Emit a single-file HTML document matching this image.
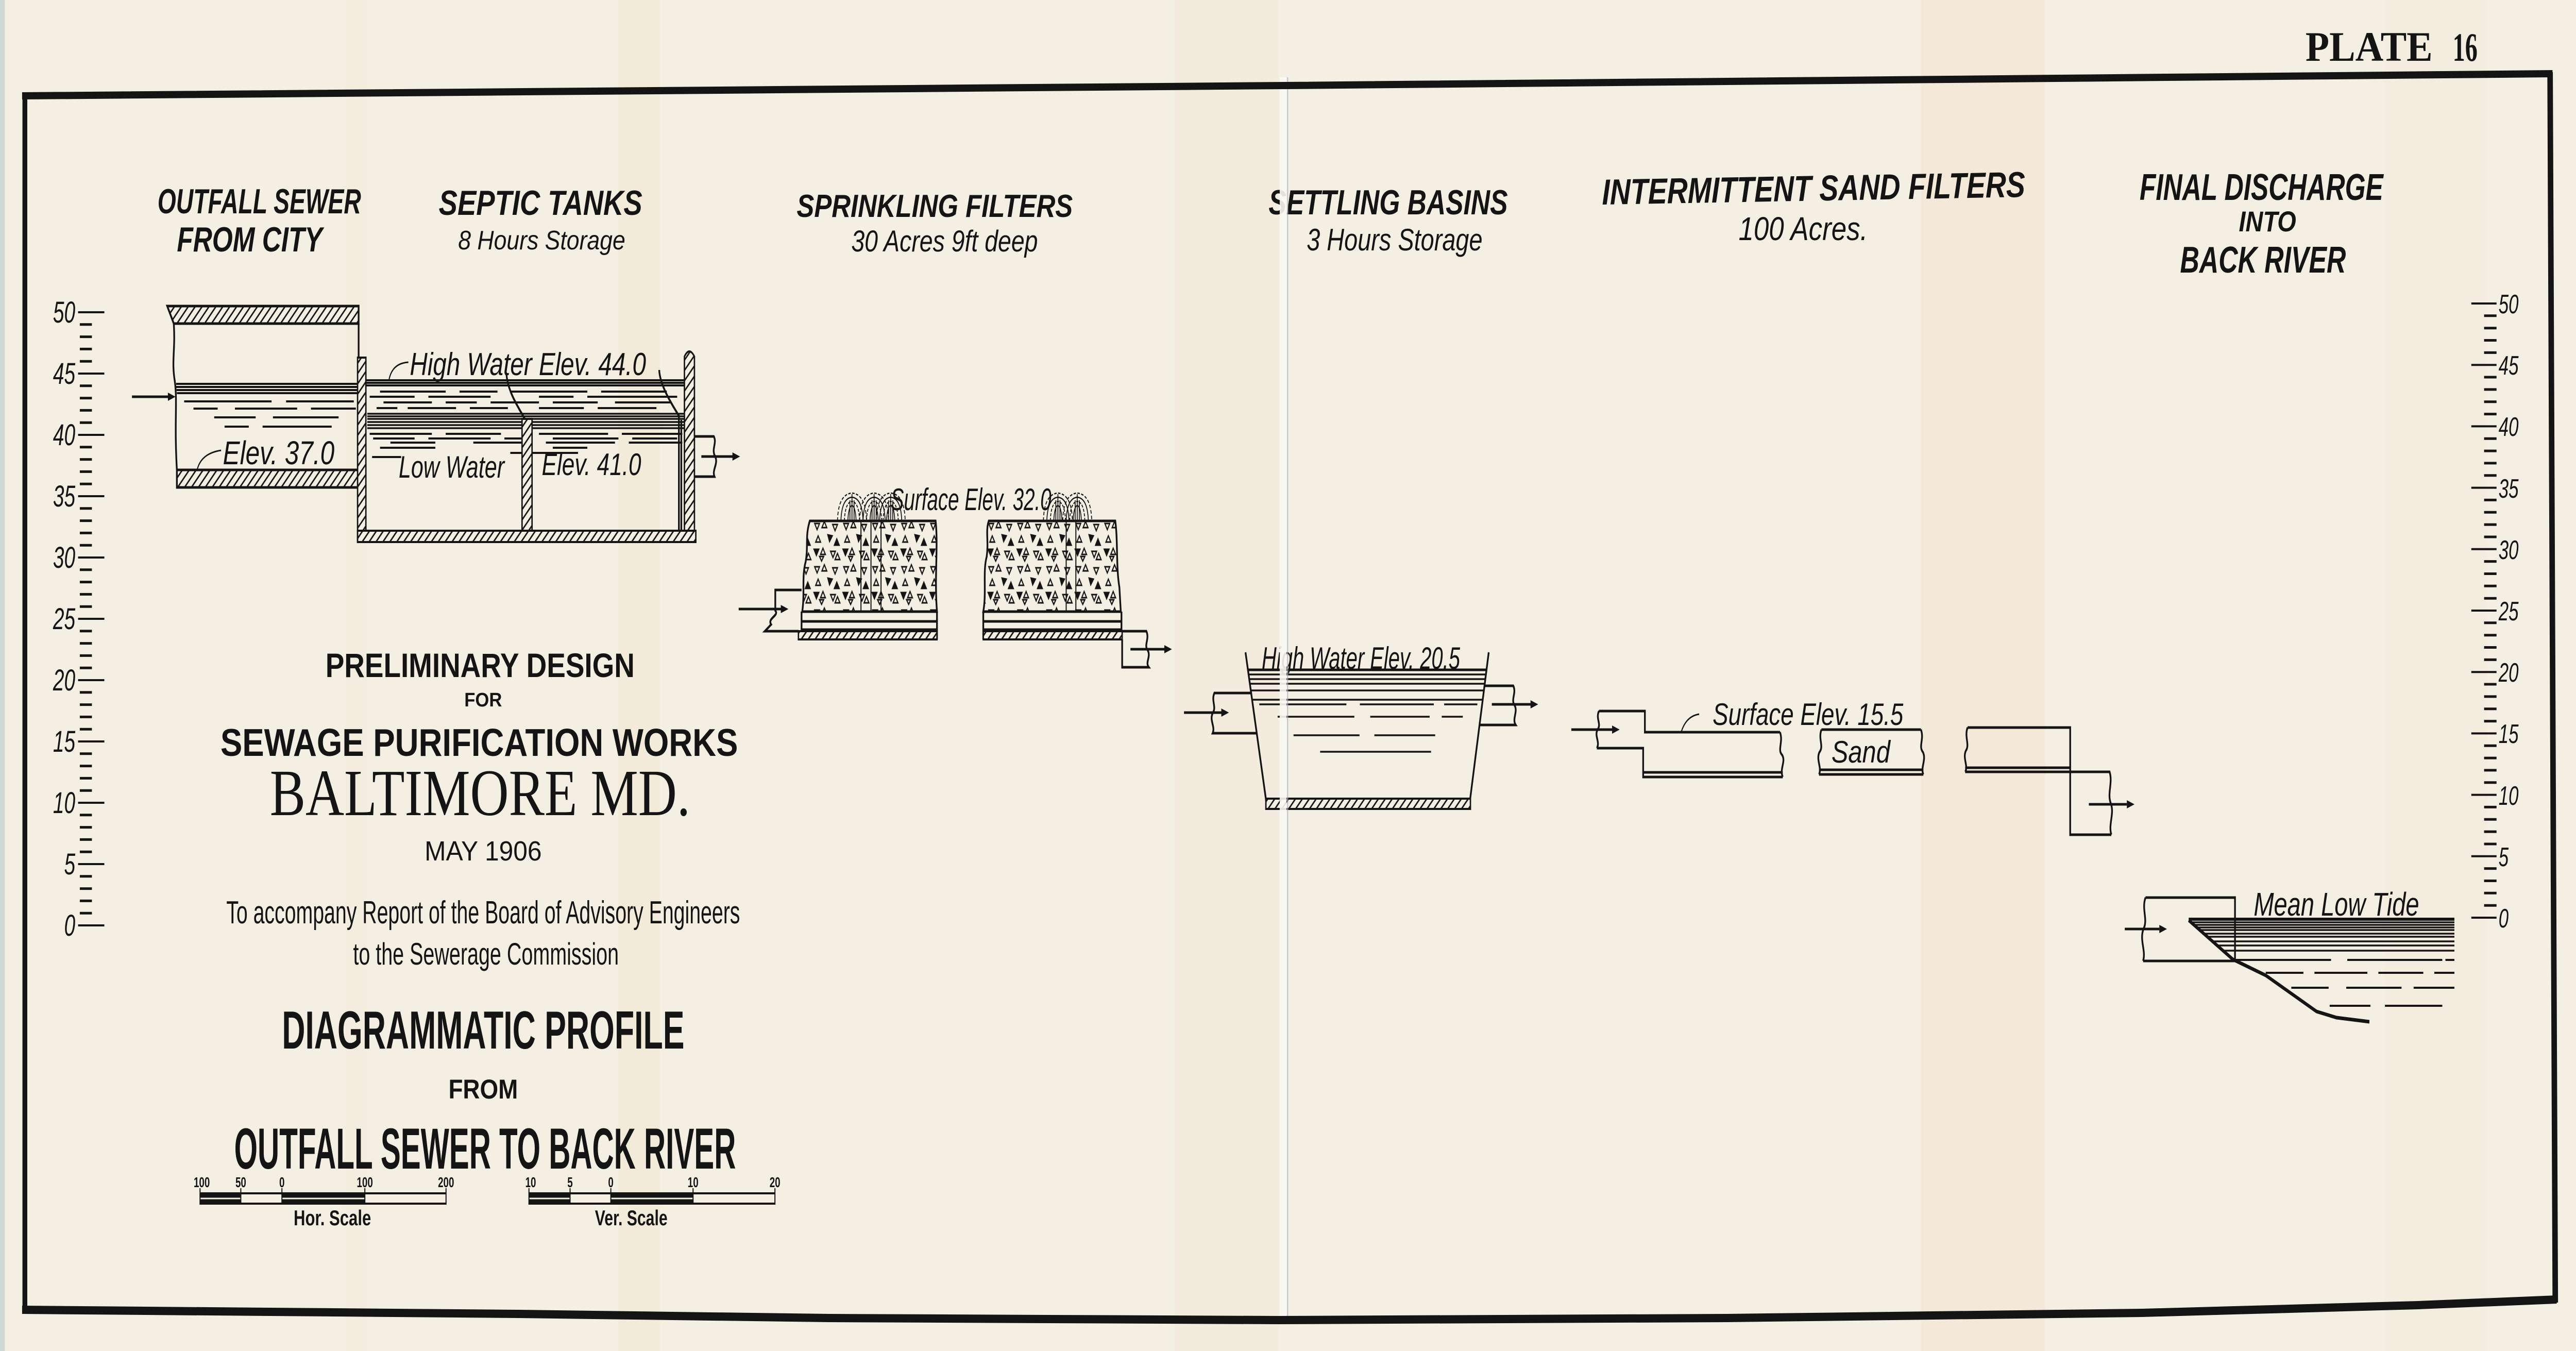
<!DOCTYPE html>
<html><head><meta charset="utf-8"><style>
html,body{margin:0;padding:0;background:#f4efe3;width:100%;height:100%;overflow:hidden;}
svg{display:block;width:100vw;height:100vh;}
</style></head><body>
<svg xmlns="http://www.w3.org/2000/svg" viewBox="0 0 7456 2622" preserveAspectRatio="none">
<defs>
<style>
.h{font-family:"Liberation Sans",sans-serif;font-weight:bold;font-style:italic;fill:#141414}
.s{font-family:"Liberation Sans",sans-serif;font-style:italic;fill:#141414}
.t{font-family:"Liberation Sans",sans-serif;font-weight:bold;fill:#141414}
.r{font-family:"Liberation Sans",sans-serif;fill:#141414}
.sf{font-family:"Liberation Serif",serif;fill:#141414}
.ln{fill:none;stroke:#141414;stroke-width:5}
.th{fill:none;stroke:#141414;stroke-width:3}
</style>
<pattern id="h" patternUnits="userSpaceOnUse" width="20" height="20"><rect width="20" height="20" fill="#f4efe3"/><path d="M-5 25 L25 -5 M-5 5 L5 -5 M15 25 L25 15" stroke="#141414" stroke-width="3.5"/></pattern>
<pattern id="m" patternUnits="userSpaceOnUse" width="84" height="84"><rect width="84" height="84" fill="#f4efe3"/>
<path d="M6 8 l14 0 l-7 12z M34 4 l7 12 h-14z M58 10 l14 0 l-7 12z M16 32 l7 12 h-14z M44 30 l13 2 l-8 11z M70 38 l7 12 h-14z M4 58 l14 0 l-7 12z M30 56 l7 12 h-14z M52 62 l14 0 l-7 12z M72 66 l7 12 h-14z M20 72 l12 0 l-6 9z" fill="none" stroke="#141414" stroke-width="3"/>
<path d="M44 30 l13 2 l-8 11z M4 58 l14 0 l-7 12z M70 38 l7 12 h-14z" fill="#141414"/>
</pattern>
<g id="sp" fill="none" stroke="#141414" stroke-width="2.5">
<path d="M-42 0 Q-40 -52 0 -54 Q40 -52 42 0" stroke-dasharray="7 4"/>
<path d="M-32 0 Q-30 -44 0 -46 Q30 -44 32 0"/>
<path d="M-22 0 Q-20 -36 0 -38 Q20 -36 22 0" stroke-dasharray="6 3"/>
<path d="M-12 0 Q-10 -28 0 -30 Q10 -28 12 0"/>
<path d="M0 0 V-52 M-6 0 V-40 M6 0 V-40"/>
</g>
</defs>

<!-- paper -->
<rect width="7456" height="2622" fill="#f4efe3"/>
<rect x="0" y="0" width="14" height="2622" fill="#cfd7d5"/>
<rect x="1790" y="0" width="120" height="2622" fill="#eee0c2" opacity="0.3"/>
<rect x="3400" y="0" width="300" height="2622" fill="#f1e7d4" opacity="0.35"/>
<rect x="5560" y="0" width="360" height="2622" fill="#f3e2c9" opacity="0.45"/>
<rect x="1000" y="0" width="60" height="2622" fill="#f0e6d3" opacity="0.25"/>
<rect x="6900" y="0" width="300" height="2622" fill="#f1e8d8" opacity="0.3"/>

<!-- PLATE -->
<text class="sf" font-weight="bold" x="6673" y="118" font-size="82" textLength="368" lengthAdjust="spacingAndGlyphs">PLATE</text>
<text class="sf" font-weight="bold" x="7099" y="118" font-size="78" textLength="72" lengthAdjust="spacingAndGlyphs">16</text>

<!-- headings -->
<text class="h" x="456" y="414" font-size="68" textLength="589" lengthAdjust="spacingAndGlyphs">OUTFALL SEWER</text>
<text class="h" x="512" y="488" font-size="68" textLength="421" lengthAdjust="spacingAndGlyphs">FROM CITY</text>
<text class="h" x="1270" y="417" font-size="68" textLength="589" lengthAdjust="spacingAndGlyphs">SEPTIC TANKS</text>
<text class="s" x="1326" y="484" font-size="52" textLength="484" lengthAdjust="spacingAndGlyphs">8 Hours Storage</text>
<text class="h" x="2306" y="421" font-size="62" textLength="799" lengthAdjust="spacingAndGlyphs">SPRINKLING FILTERS</text>
<text class="s" x="2464" y="488" font-size="58" textLength="540" lengthAdjust="spacingAndGlyphs">30 Acres 9ft deep</text>
<text class="h" x="3672" y="416" font-size="68" textLength="692" lengthAdjust="spacingAndGlyphs">SETTLING BASINS</text>
<text class="s" x="3782" y="486" font-size="60" textLength="509" lengthAdjust="spacingAndGlyphs">3 Hours Storage</text>
<text class="h" x="4637" y="397" font-size="70" textLength="1225" lengthAdjust="spacingAndGlyphs" transform="rotate(-0.7 4637 397)">INTERMITTENT SAND FILTERS</text>
<text class="s" x="5032" y="466" font-size="64" textLength="374" lengthAdjust="spacingAndGlyphs">100 Acres.</text>
<text class="h" x="6193" y="388" font-size="72" textLength="705" lengthAdjust="spacingAndGlyphs">FINAL DISCHARGE</text>
<text class="h" x="6480" y="449" font-size="56" textLength="166" lengthAdjust="spacingAndGlyphs">INTO</text>
<text class="h" x="6310" y="529" font-size="72" textLength="480" lengthAdjust="spacingAndGlyphs">BACK RIVER</text>

<!-- left scale -->
<path d="M226 1796H302M226 1677H302M226 1558H302M226 1439H302M226 1320H302M226 1201H302M226 1082H302M226 963H302M226 844H302M226 725H302M226 606H302" stroke="#141414" stroke-width="4"/>
<path d="M231 1772.2H266M231 1748.4H266M231 1724.6H266M231 1700.8H266M231 1653.2H266M231 1629.4H266M231 1605.6H266M231 1581.8H266M231 1534.2H266M231 1510.4H266M231 1486.6H266M231 1462.8H266M231 1415.2H266M231 1391.4H266M231 1367.6H266M231 1343.8H266M231 1296.2H266M231 1272.4H266M231 1248.6H266M231 1224.8H266M231 1177.2H266M231 1153.4H266M231 1129.6H266M231 1105.8H266M231 1058.2H266M231 1034.4H266M231 1010.6H266M231 986.8H266M231 939.2H266M231 915.4H266M231 891.6H266M231 867.8H266M231 820.2H266M231 796.4H266M231 772.6H266M231 748.8H266M231 701.2H266M231 677.4H266M231 653.6H266M231 629.8H266" stroke="#141414" stroke-width="5"/>
<g class="s" font-size="58" text-anchor="end">
<text x="218" y="626">50</text><text x="218" y="745">45</text><text x="218" y="864">40</text><text x="218" y="983">35</text><text x="218" y="1102">30</text><text x="218" y="1221">25</text><text x="218" y="1340">20</text><text x="218" y="1459">15</text><text x="218" y="1578">10</text><text x="218" y="1697">5</text><text x="218" y="1816">0</text>
</g>

<!-- right scale -->
<path d="M7153 1781H7226M7153 1661.8H7226M7153 1542.6H7226M7153 1423.4H7226M7153 1304.2H7226M7153 1185H7226M7153 1065.8H7226M7153 946.6H7226M7153 827.4H7226M7153 708.2H7226M7153 589H7226" stroke="#141414" stroke-width="4"/>
<path d="M7190 1757.2H7226M7190 1733.3H7226M7190 1709.5H7226M7190 1685.6H7226M7190 1638H7226M7190 1614.1H7226M7190 1590.3H7226M7190 1566.4H7226M7190 1518.8H7226M7190 1494.9H7226M7190 1471.1H7226M7190 1447.2H7226M7190 1399.6H7226M7190 1375.7H7226M7190 1351.9H7226M7190 1328H7226M7190 1280.4H7226M7190 1256.5H7226M7190 1232.7H7226M7190 1208.8H7226M7190 1161.2H7226M7190 1137.3H7226M7190 1113.5H7226M7190 1089.6H7226M7190 1042H7226M7190 1018.1H7226M7190 994.3H7226M7190 970.4H7226M7190 922.8H7226M7190 898.9H7226M7190 875.1H7226M7190 851.2H7226M7190 803.6H7226M7190 779.7H7226M7190 755.9H7226M7190 732H7226M7190 684.4H7226M7190 660.5H7226M7190 636.7H7226M7190 612.8H7226" stroke="#141414" stroke-width="5"/>
<g class="s" font-size="52">
<text x="7232" y="608">50</text><text x="7232" y="727">45</text><text x="7232" y="846">40</text><text x="7232" y="966">35</text><text x="7232" y="1085">30</text><text x="7232" y="1204">25</text><text x="7232" y="1323">20</text><text x="7232" y="1442">15</text><text x="7232" y="1562">10</text><text x="7232" y="1681">5</text><text x="7232" y="1800">0</text>
</g>

<!-- ===== OUTFALL SEWER ===== -->
<g stroke="#141414" fill="none">
<path d="M510 745H1035M510 751H1035M511 757H1035M512 763H1035" stroke-width="4"/>
<path d="M533 779H786M828 779H1024M560 793H630M680 793H860M900 793H1030M620 810H740M790 810H980M650 828H720M760 828H960" stroke-width="4"/>
</g>
<path d="M484 594 L1038 594 L1038 628 L503 628 Z" fill="url(#h)" stroke="#141414" stroke-width="5"/>
<path d="M512 912 L1038 912 L1038 946 L512 946 Z" fill="url(#h)" stroke="#141414" stroke-width="5"/>
<path d="M503 628 C508 680 496 700 506 740 C514 780 504 820 512 912" class="ln"/>
<path d="M1038 628 V694" class="ln"/>
<path d="M382 770 H490" class="ln"/><polygon points="508,770 486,762 486,778" fill="#141414"/>
<path d="M570 914 Q580 880 640 874" class="th" stroke-width="4"/>
<text class="s" x="645" y="901" font-size="64" textLength="323" lengthAdjust="spacingAndGlyphs">Elev. 37.0</text>

<!-- ===== SEPTIC TANKS ===== -->
<g stroke="#141414" fill="none">
<path d="M1059 738H1981M1059 743H1981M1059 748H1981" stroke-width="4"/>
<path d="M1100 760H1290M1330 760H1440M1480 760H1700M1740 760H1930M1070 770H1200M1240 770H1420M1560 770H1660M1700 770H1960M1110 781H1250M1290 781H1380M1420 781H1560M1600 781H1730M1780 781H1940M1090 792H1150M1180 792H1320M1360 792H1470M1560 792H1690M1730 792H1900" stroke-width="4"/>
<path d="M1063 803H1981M1063 808H1981M1063 813H1981M1063 819H1981M1063 825H1981M1063 831H1981" stroke-width="3.5"/>
<path d="M1070 842H1250M1290 842H1450M1560 842H1760M1800 842H1975M1080 851H1200M1240 851H1420M1460 851H1520M1600 851H1790M1830 851H1960M1130 859H1260M1370 859H1530M1580 859H1780M1820 859H1975M1100 869H1260M1600 869H1700" stroke-width="4"/>
<path d="M1077 887H1161M1477 879H1673" stroke-width="4"/>
</g>
<rect x="1035" y="694" width="24" height="358" fill="url(#h)" stroke="#141414" stroke-width="4"/>
<path d="M1981 1052 V692 Q1995 672 2010 692 V1052 Z" fill="url(#h)" stroke="#141414" stroke-width="4"/>
<rect x="1511" y="813" width="29" height="225" fill="url(#h)" stroke="#141414" stroke-width="4"/>
<rect x="1035" y="1030" width="979" height="22" fill="url(#h)" stroke="#141414" stroke-width="4"/>
<path d="M1466 727 C1470 760 1500 790 1519 813" class="ln"/>
<path d="M1908 718 C1910 750 1950 790 1965 807 L1965 1030 M1972 815 V1030" class="ln" stroke-width="4"/>
<path d="M1126 737 Q1135 705 1182 703" class="th" stroke-width="4"/>
<text class="s" x="1186" y="728" font-size="62" textLength="684" lengthAdjust="spacingAndGlyphs">High Water Elev. 44.0</text>
<text class="s" x="1154" y="927" font-size="60" textLength="306" lengthAdjust="spacingAndGlyphs">Low Water</text>
<text class="s" x="1568" y="922" font-size="60" textLength="288" lengthAdjust="spacingAndGlyphs">Elev. 41.0</text>
<path d="M2010 847 H2066 C2076 860 2058 872 2070 886 C2080 900 2060 912 2068 925 H2010" class="ln"/>
<path d="M2030 886 H2122" class="ln"/><polygon points="2142,886 2120,878 2120,894" fill="#141414"/>

<!-- ===== SPRINKLING FILTERS ===== -->
<path d="M2344 1011 L2708 1011 C2716 1060 2704 1120 2712 1187 L2322 1187 C2330 1150 2320 1120 2332 1090 C2340 1060 2330 1040 2344 1011 Z" fill="url(#m)" stroke="#141414" stroke-width="5"/>
<path d="M2492 1011V1187M2521 1011V1187M2550 1011V1187" class="th"/>
<path d="M2318 1206H2712M2318 1222H2712M2320 1187V1241M2712 1187V1241" class="ln" stroke-width="4"/>
<rect x="2311" y="1225" width="401" height="16" fill="url(#h)" stroke="#141414" stroke-width="4"/>
<use href="#sp" x="2466" y="1011"/><use href="#sp" x="2530" y="1011"/><use href="#sp" x="2578" y="1011"/>
<path d="M2320 1145 H2244 V1185 C2256 1195 2220 1200 2232 1212 L2214 1225 H2311" class="ln"/>
<path d="M2138 1182 H2262" class="ln"/><polygon points="2282,1182 2260,1174 2260,1190" fill="#141414"/>

<path d="M2862 1011 L3228 1011 C3236 1050 3230 1100 3240 1140 L3244 1187 L2846 1187 C2856 1150 2844 1110 2856 1080 C2862 1050 2852 1030 2862 1011 Z" fill="url(#m)" stroke="#141414" stroke-width="5"/>
<path d="M3086 1011V1187M3114 1011V1187" class="th"/>
<path d="M2846 1206H3248M2846 1222H3248M2846 1187V1241M3246 1187V1241" class="ln" stroke-width="4"/>
<rect x="2846" y="1225" width="402" height="16" fill="url(#h)" stroke="#141414" stroke-width="4"/>
<use href="#sp" x="3062" y="1011"/><use href="#sp" x="3118" y="1011"/>
<path d="M3248 1225 H3318 C3328 1240 3310 1252 3322 1262 C3332 1275 3314 1285 3325 1295 H3248 V1241" class="ln"/>
<path d="M3272 1260 H3372" class="ln"/><polygon points="3392,1260 3370,1252 3370,1268" fill="#141414"/>
<text class="s" x="2578" y="990" font-size="60" textLength="465" lengthAdjust="spacingAndGlyphs">Surface Elev. 32.0</text>

<!-- ===== SETTLING BASIN ===== -->
<g stroke="#141414" fill="none">
<path d="M3612 1300H4303" stroke-width="5"/>
<path d="M3614 1309H4301M3616 1318H4299M3618 1327H4297M3620 1340H4295M3624 1358H4292" stroke-width="3.5"/>
<path d="M3645 1367H3897M3936 1367H4150M4180 1367H4276M3698 1391H3920M3966 1391H4138M4173 1391H4234M3744 1427H3935M3978 1427H4154M3821 1459H4142" stroke-width="3.5"/>
</g>
<path d="M3605 1266 L3668 1570 M4309 1266 L4255 1552" class="ln"/>
<rect x="3664" y="1550" width="592" height="20" fill="url(#h)" stroke="#141414" stroke-width="4"/>
<path d="M3621 1345 H3515 C3505 1360 3522 1372 3510 1384 C3500 1398 3518 1410 3510 1423 H3637" class="ln"/>
<path d="M3427 1383 H3537" class="ln"/><polygon points="3557,1383 3535,1375 3535,1391" fill="#141414"/>
<path d="M4297 1331 H4380 C4390 1345 4372 1358 4384 1369 C4394 1382 4376 1395 4387 1407 H4282" class="ln"/>
<path d="M4318 1367 H4432" class="ln"/><polygon points="4452,1367 4430,1359 4430,1375" fill="#141414"/>
<text class="s" x="3652" y="1298" font-size="60" textLength="574" lengthAdjust="spacingAndGlyphs">High Water Elev. 20.5</text>

<!-- ===== SAND FILTERS ===== -->
<path d="M4628 1380 H4761 V1421 H5152" class="ln"/>
<path d="M4622 1452 H4756 V1508 H5160 M4756 1499 H5160" class="ln"/>
<path d="M4628 1380 C4618 1395 4636 1405 4624 1416 C4614 1428 4632 1440 4622 1452" class="ln"/>
<path d="M5152 1421 C5162 1440 5144 1455 5158 1465 C5170 1478 5150 1492 5160 1508" class="ln"/>
<path d="M4548 1416 H4668" class="ln"/><polygon points="4688,1416 4666,1408 4666,1424" fill="#141414"/>
<path d="M4866 1421 Q4880 1390 4918 1386" class="th" stroke-width="4"/>
<text class="s" x="4957" y="1407" font-size="60" textLength="552" lengthAdjust="spacingAndGlyphs">Surface Elev. 15.5</text>

<path d="M5272 1416 H5560 M5265 1494 H5567 M5265 1503 H5567" class="ln"/>
<path d="M5272 1416 C5262 1435 5280 1448 5266 1460 C5256 1475 5274 1490 5265 1503" class="ln"/>
<path d="M5560 1416 C5570 1435 5552 1448 5566 1460 C5576 1475 5558 1490 5567 1503" class="ln"/>
<text class="s" x="5301" y="1480" font-size="60" textLength="170" lengthAdjust="spacingAndGlyphs">Sand</text>

<path d="M5695 1412 H5992 V1620 H6111 M5688 1490 H5992 M5688 1498 H6108" class="ln"/>
<path d="M5695 1412 C5685 1430 5702 1445 5690 1457 C5680 1472 5698 1487 5688 1498" class="ln"/>
<path d="M6106 1498 C6116 1520 6098 1540 6110 1560 C6120 1580 6102 1600 6111 1620" class="ln"/>
<path d="M6046 1561 H6156" class="ln"/><polygon points="6178,1561 6156,1553 6156,1569" fill="#141414"/>

<!-- ===== FINAL DISCHARGE ===== -->
<g stroke="#141414" fill="none">
<path d="M6335 1784H7104" stroke-width="6"/>
<path d="M6342 1790H7104M6350 1795H7104M6359 1800H7104M6367 1805H7104M6379 1812H7104M6389 1818H7104M6404 1827H7104M6417 1835H7104M6434 1845H7104" stroke-width="3.5"/>
<path d="M6463 1863H6747M6794 1863H7069M7078 1863H7104M6558 1888H6667M6699 1888H6852M6884 1888H7014M7046 1888H7104M6632 1917H6740M6791 1917H6951M6986 1917H7104M6743 1952H6861M6903 1952H7069" stroke-width="4"/>
</g>
<path d="M6335 1786 L6463 1862 L6558 1893 L6705 1963 L6763 1975 L6858 1983" fill="none" stroke="#141414" stroke-width="7"/>
<path d="M6210 1742 H6469 V1865 H6203" class="ln"/>
<path d="M6210 1742 C6198 1765 6218 1785 6204 1803 C6192 1825 6212 1845 6203 1865" class="ln"/>
<path d="M6150 1803 H6250" class="ln"/><polygon points="6272,1803 6250,1795 6250,1811" fill="#141414"/>
<text class="s" x="6523" y="1777" font-size="64" textLength="479" lengthAdjust="spacingAndGlyphs">Mean Low Tide</text>

<!-- ===== TITLE BLOCK ===== -->
<text class="t" x="942" y="1314" font-size="66" textLength="895" lengthAdjust="spacingAndGlyphs">PRELIMINARY DESIGN</text>
<text class="t" x="1344" y="1371" font-size="38" textLength="109" lengthAdjust="spacingAndGlyphs">FOR</text>
<text class="t" x="638" y="1467" font-size="75" textLength="1498" lengthAdjust="spacingAndGlyphs">SEWAGE PURIFICATION WORKS</text>
<text class="sf" x="781" y="1582" font-size="128" textLength="1217" lengthAdjust="spacingAndGlyphs">BALTIMORE MD.</text>
<text class="r" x="1229" y="1670" font-size="54" textLength="339" lengthAdjust="spacingAndGlyphs">MAY 1906</text>
<text class="r" x="655" y="1792" font-size="62" textLength="1487" lengthAdjust="spacingAndGlyphs">To accompany Report of the Board of Advisory Engineers</text>
<text class="r" x="1022" y="1872" font-size="60" textLength="769" lengthAdjust="spacingAndGlyphs">to the Sewerage Commission</text>
<text class="t" x="816" y="2035" font-size="104" textLength="1165" lengthAdjust="spacingAndGlyphs">DIAGRAMMATIC PROFILE</text>
<text class="t" x="1298" y="2132" font-size="53" textLength="201" lengthAdjust="spacingAndGlyphs">FROM</text>
<text class="t" x="678" y="2268" font-size="112" textLength="1452" lengthAdjust="spacingAndGlyphs">OUTFALL SEWER TO BACK RIVER</text>

<!-- scale bars -->
<rect x="579" y="2316" width="118" height="20" fill="#141414"/>
<rect x="816" y="2316" width="240" height="20" fill="#141414"/>
<path d="M579 2326H697M816 2326H1056" stroke="#f4efe3" stroke-width="3"/>
<path d="M579 2316H1291M579 2336H1291" stroke="#141414" stroke-width="4"/>
<path d="M579 2306V2338M697 2306V2338M816 2306V2338M1056 2306V2338M1291 2306V2338" stroke="#141414" stroke-width="3"/>
<g class="t" font-size="28" text-anchor="middle">
<text x="584" y="2304">100</text><text x="697" y="2304">50</text><text x="816" y="2304">0</text><text x="1056" y="2304">100</text><text x="1291" y="2304">200</text>
</g>
<text class="t" x="850" y="2378" font-size="42" textLength="224" lengthAdjust="spacingAndGlyphs">Hor. Scale</text>

<rect x="1531" y="2316" width="119" height="20" fill="#141414"/>
<rect x="1768" y="2316" width="238" height="20" fill="#141414"/>
<path d="M1531 2326H1650M1768 2326H2006" stroke="#f4efe3" stroke-width="3"/>
<path d="M1531 2316H2243M1531 2336H2243" stroke="#141414" stroke-width="4"/>
<path d="M1531 2306V2338M1650 2306V2338M1768 2306V2338M2006 2306V2338M2243 2306V2338" stroke="#141414" stroke-width="3"/>
<g class="t" font-size="28" text-anchor="middle">
<text x="1536" y="2304">10</text><text x="1650" y="2304">5</text><text x="1768" y="2304">0</text><text x="2006" y="2304">10</text><text x="2243" y="2304">20</text>
</g>
<text class="t" x="1722" y="2378" font-size="42" textLength="210" lengthAdjust="spacingAndGlyphs">Ver. Scale</text>

<!-- fold -->
<rect x="3704" y="150" width="20" height="2410" fill="#f9f7f2" opacity="0.9"/>
<path d="M3727 150 V2560" stroke="#aeb5bd" stroke-width="3" opacity="0.8"/>

<!-- border -->
<path d="M64 186 L3720 166 L7388 143" fill="none" stroke="#141414" stroke-width="14"/>
<path d="M7381 140 L7396 2528" fill="none" stroke="#141414" stroke-width="16"/>
<path d="M64 2542 L1500 2550 L2400 2558 L3700 2562 L5000 2558 L6200 2548 L7000 2533 L7400 2522" fill="none" stroke="#141414" stroke-width="16"/>
<path d="M72 180 L72 2550" fill="none" stroke="#141414" stroke-width="14"/>
</svg>
</body></html>
